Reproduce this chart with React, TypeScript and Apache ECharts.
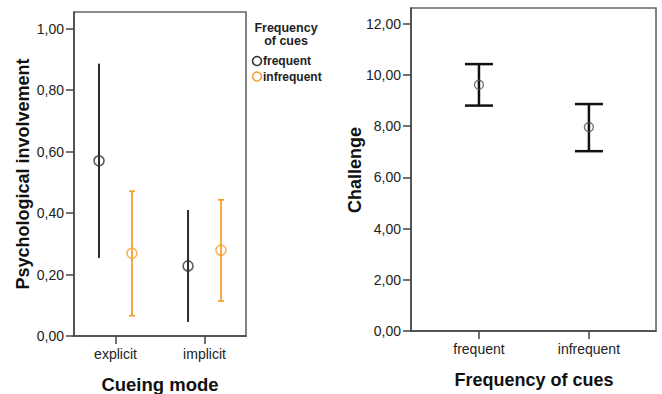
import React, { useEffect, useRef } from "react";
import * as echarts from "echarts";

// ---- Data ----
const cueingModes = ["explicit", "implicit"];
const psychFrequentMean = [0.57, 0.228];
const psychFrequentLow = [0.254, 0.046];
const psychFrequentHigh = [0.886, 0.41];
const psychInfrequentMean = [0.269, 0.279];
const psychInfrequentLow = [0.066, 0.114];
const psychInfrequentHigh = [0.471, 0.443];
const psychTicks = [0, 0.2, 0.4, 0.6, 0.8, 1.0];

const cueFrequencies = ["frequent", "infrequent"];
const challengeMean = [9.61, 7.96];
const challengeLow = [8.8, 7.02];
const challengeHigh = [10.42, 8.86];
const challengeTicks = [0, 2, 4, 6, 8, 10, 12];

const FONT = "Arial, 'Liberation Sans', sans-serif";
const ORANGE = "#F7A030";
const DARK = "#2a2a2a";

const fmt = (v: number) => v.toFixed(2).replace(".", ",");

function errorBarSeries(
  name: string,
  xIdx: number,
  data: number[][],
  color: string,
  width: number,
  capHalf: number
) {
  return {
    name: name + " CI",
    type: "custom",
    xAxisIndex: xIdx,
    yAxisIndex: xIdx,
    data,
    z: 2,
    renderItem: (params: any, api: any) => {
      const x = api.value(0);
      const lo = api.value(1);
      const hi = api.value(2);
      const pTop = api.coord([x, hi]);
      const pBot = api.coord([x, lo]);
      const style = { stroke: color, lineWidth: width };
      const children: any[] = [
        { type: "line", shape: { x1: pTop[0], y1: pTop[1], x2: pBot[0], y2: pBot[1] }, style },
      ];
      if (capHalf > 0) {
        children.push({
          type: "line",
          shape: { x1: pTop[0] - capHalf, y1: pTop[1], x2: pTop[0] + capHalf, y2: pTop[1] },
          style,
        });
        children.push({
          type: "line",
          shape: { x1: pBot[0] - capHalf, y1: pBot[1], x2: pBot[0] + capHalf, y2: pBot[1] },
          style,
        });
      }
      return { type: "group", children };
    },
  };
}

export default function App() {
  const ref = useRef<HTMLDivElement>(null);

  useEffect(() => {
    document.body.style.margin = "0";
    const chart = echarts.init(ref.current!, null, { renderer: "svg" });

    const off = 0.185;
    const leftFreqPos = cueingModes.map((_, i) => i + 1 - off);
    const leftInfPos = cueingModes.map((_, i) => i + 1 + off);
    const rightPos = cueFrequencies.map((_, i) => i + 1);

    const xAxisCommon = (cats: string[]) => ({
      type: "value",
      axisLine: { show: true, lineStyle: { color: "#444", width: 1.5 } },
      axisTick: { show: true, customValues: cats.map((_, i) => i + 1), length: 8, lineStyle: { color: "#444", width: 1.5 } },
      axisLabel: {
        customValues: cats.map((_, i) => i + 1),
        formatter: (v: number) => cats[Math.round(v) - 1] ?? "",
        color: "#222",
        fontFamily: FONT,
        fontSize: 14,
        margin: 11,
      },
      splitLine: { show: false },
    });

    const yAxisCommon = (ticks: number[]) => ({
      type: "value",
      min: 0,
      axisLine: { show: true, lineStyle: { color: "#444", width: 1.5 } },
      axisTick: { show: true, customValues: ticks, length: 8, lineStyle: { color: "#444", width: 1.5 } },
      axisLabel: {
        customValues: ticks,
        formatter: (v: number) => fmt(v),
        color: "#222",
        fontFamily: FONT,
        fontSize: 14,
        margin: 10,
      },
      splitLine: { show: false },
    });

    chart.setOption({
      animation: false,
      backgroundColor: "#ffffff",
      grid: [
        { left: 74, top: 12, width: 172, height: 324, show: true, borderColor: "#666", borderWidth: 1.6, backgroundColor: "transparent" },
        { left: 411, top: 8, width: 245, height: 323, show: true, borderColor: "#666", borderWidth: 1.6, backgroundColor: "transparent" },
      ],
      xAxis: [
        { ...xAxisCommon(cueingModes), gridIndex: 0, min: 0.534, max: 2.466 },
        { ...xAxisCommon(cueFrequencies), gridIndex: 1, min: 0.382, max: 2.61 },
      ],
      yAxis: [
        { ...yAxisCommon(psychTicks), gridIndex: 0, max: 1.054 },
        { ...yAxisCommon(challengeTicks), gridIndex: 1, max: 12.61 },
      ],
      series: [
        errorBarSeries(
          "frequent",
          0,
          leftFreqPos.map((x, i) => [x, psychFrequentLow[i], psychFrequentHigh[i]]),
          DARK,
          2,
          0
        ),
        errorBarSeries(
          "infrequent",
          0,
          leftInfPos.map((x, i) => [x, psychInfrequentLow[i], psychInfrequentHigh[i]]),
          ORANGE,
          1.8,
          3
        ),
        {
          name: "frequent",
          type: "scatter",
          xAxisIndex: 0,
          yAxisIndex: 0,
          symbol: "circle",
          symbolSize: 10,
          z: 3,
          itemStyle: { color: "transparent", borderColor: "#333", borderWidth: 1.6 },
          data: leftFreqPos.map((x, i) => [x, psychFrequentMean[i]]),
        },
        {
          name: "infrequent",
          type: "scatter",
          xAxisIndex: 0,
          yAxisIndex: 0,
          symbol: "circle",
          symbolSize: 10,
          z: 3,
          itemStyle: { color: "transparent", borderColor: ORANGE, borderWidth: 1.6 },
          data: leftInfPos.map((x, i) => [x, psychInfrequentMean[i]]),
        },
        errorBarSeries(
          "Challenge",
          1,
          rightPos.map((x, i) => [x, challengeLow[i], challengeHigh[i]]),
          "#111",
          2.5,
          14
        ),
        {
          name: "Challenge",
          type: "scatter",
          xAxisIndex: 1,
          yAxisIndex: 1,
          symbol: "circle",
          symbolSize: 9,
          z: 3,
          itemStyle: { color: "transparent", borderColor: "#555", borderWidth: 1.4 },
          data: rightPos.map((x, i) => [x, challengeMean[i]]),
        },
      ],
      graphic: [
        {
          type: "text",
          x: 23,
          y: 174,
          rotation: Math.PI / 2,
          style: { text: "Psychological involvement", align: "center", verticalAlign: "middle", font: `bold 18px ${FONT}`, fill: "#111" },
        },
        {
          type: "text",
          x: 160,
          y: 384,
          style: { text: "Cueing mode", align: "center", verticalAlign: "middle", font: `bold 18.5px ${FONT}`, fill: "#111" },
        },
        {
          type: "text",
          x: 355,
          y: 170,
          rotation: Math.PI / 2,
          style: { text: "Challenge", align: "center", verticalAlign: "middle", font: `bold 18px ${FONT}`, fill: "#111" },
        },
        {
          type: "text",
          x: 534,
          y: 380,
          style: { text: "Frequency of cues", align: "center", verticalAlign: "middle", font: `bold 18px ${FONT}`, fill: "#111" },
        },
        {
          type: "text",
          x: 286,
          y: 28,
          style: { text: "Frequency", align: "center", verticalAlign: "middle", font: `bold 12.5px ${FONT}`, fill: "#222" },
        },
        {
          type: "text",
          x: 286,
          y: 41,
          style: { text: "of cues", align: "center", verticalAlign: "middle", font: `bold 12.5px ${FONT}`, fill: "#222" },
        },
        {
          type: "circle",
          shape: { cx: 257, cy: 61, r: 4.5 },
          style: { fill: "transparent", stroke: "#333", lineWidth: 1.6 },
        },
        {
          type: "text",
          x: 263,
          y: 61,
          style: { text: "frequent", align: "left", verticalAlign: "middle", font: `bold 12px ${FONT}`, fill: "#222" },
        },
        {
          type: "circle",
          shape: { cx: 257, cy: 76.5, r: 4.5 },
          style: { fill: "transparent", stroke: ORANGE, lineWidth: 1.6 },
        },
        {
          type: "text",
          x: 263,
          y: 76.5,
          style: { text: "infrequent", align: "left", verticalAlign: "middle", font: `bold 12px ${FONT}`, fill: "#222" },
        },
      ],
    });

    return () => chart.dispose();
  }, []);

  return <div ref={ref} style={{ width: 662, height: 394 }} />;
}
